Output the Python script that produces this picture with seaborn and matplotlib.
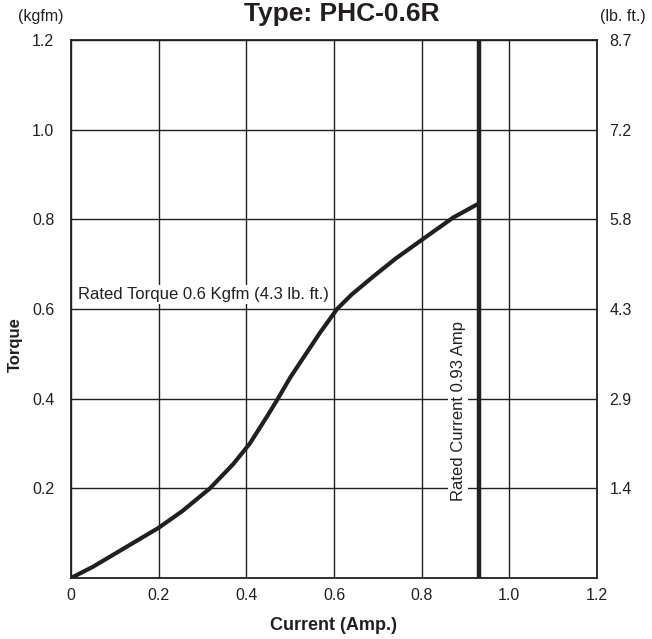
import matplotlib
matplotlib.use("Agg")
import matplotlib.pyplot as plt
import seaborn as sns
import pandas as pd

# ---- data ----
current = [0.0, 0.05, 0.1, 0.2, 0.255, 0.317, 0.37, 0.408, 0.447, 0.472, 0.5, 0.568,
           0.607, 0.64, 0.689, 0.74, 0.8, 0.872, 0.926]
torque = [0.0, 0.025, 0.054, 0.112, 0.15, 0.2, 0.254, 0.30, 0.36, 0.40, 0.447, 0.547,
          0.6, 0.632, 0.672, 0.712, 0.754, 0.804, 0.833]
x_ticks = [0.0, 0.2, 0.4, 0.6, 0.8, 1.0, 1.2]
x_tick_labels = ["0", "0.2", "0.4", "0.6", "0.8", "1.0", "1.2"]
y_ticks = [0.2, 0.4, 0.6, 0.8, 1.0, 1.2]
y_tick_labels = ["0.2", "0.4", "0.6", "0.8", "1.0", "1.2"]
lbft_labels = ["1.4", "2.9", "4.3", "5.8", "7.2", "8.7"]
rated_current = 0.93
rated_torque = 0.6

sns.set_style("white")
plt.rcParams["font.family"] = ["Liberation Sans", "DejaVu Sans"]

INK = "#231f20"
fig = plt.figure(figsize=(6.52, 6.39), dpi=100)
ax = fig.add_axes([71 / 652, 1 - 578 / 639, 526 / 652, 538 / 639])

df = pd.DataFrame({"Current": current, "Torque": torque})
sns.lineplot(data=df, x="Current", y="Torque", ax=ax, color=INK, linewidth=3.0,
             zorder=4, sort=False)
for ln in ax.lines:
    ln.set_solid_joinstyle("round")
    ln.set_solid_capstyle("round")
ax.axvline(rated_current, color=INK, linewidth=3.2, zorder=4)

ax.set_xlim(0, 1.2)
ax.set_ylim(0, 1.2)
ax.set_xticks(x_ticks)
ax.set_xticklabels(x_tick_labels)
ax.set_yticks(y_ticks)
ax.set_yticklabels(y_tick_labels)
ax.set_axisbelow(True)
ax.grid(True, color=INK, linewidth=1.0)
ax.tick_params(axis="both", length=0, labelsize=11.5, colors=INK)
ax.tick_params(axis="x", pad=7)
ax.tick_params(axis="y", pad=12)
for s in ax.spines.values():
    s.set_color(INK)
    s.set_linewidth(1.3)

ax.set_xlabel("Current (Amp.)", fontsize=13, fontweight="bold", color=INK, labelpad=10)
ax.set_ylabel("Torque", fontsize=12, fontweight="bold", color=INK)
ax.yaxis.set_label_coords((15.5 - 71) / 526, (578 - 345) / 538)
ax.yaxis.label.set_va("center")
ax.yaxis.label.set_ha("center")

ax2 = ax.twinx()
ax2.set_ylim(0, 1.2)
ax2.set_yticks(y_ticks)
ax2.set_yticklabels(lbft_labels)
ax2.tick_params(axis="y", length=0, labelsize=11.5, colors=INK, pad=9)
ax2.grid(False)
for s in ax2.spines.values():
    s.set_visible(False)

ax.text(0.016, 0.632, "Rated Torque 0.6 Kgfm (4.3 lb. ft.)", fontsize=12, color=INK,
        ha="left", va="center", zorder=3,
        bbox=dict(facecolor="white", edgecolor="none", pad=1.5))
ax.text(0.883, 0.373, "Rated Current 0.93 Amp", fontsize=12, color=INK, rotation=90,
        ha="center", va="center", zorder=3,
        bbox=dict(facecolor="white", edgecolor="none", pad=2.0))

fig.text(342 / 652, 1 - 21 / 639, "Type: PHC-0.6R", fontsize=19, fontweight="bold",
         color=INK, ha="center", va="baseline")
fig.text(41 / 652, 1 - 17 / 639, "(kgfm)", fontsize=11.5, color=INK, ha="center", va="center")
fig.text(623 / 652, 1 - 17 / 639, "(lb. ft.)", fontsize=11.5, color=INK, ha="center", va="center")

fig.savefig("out.png", dpi=100)
